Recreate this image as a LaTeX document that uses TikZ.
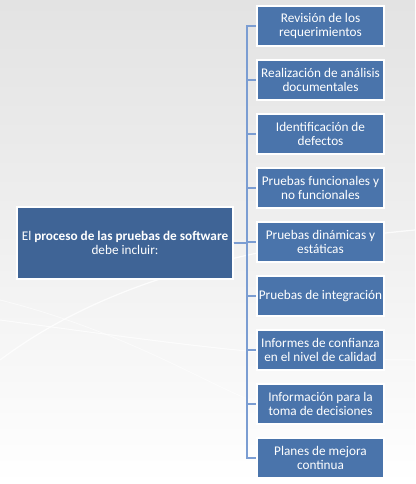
\documentclass[tikz,border=0pt]{standalone}
\usepackage{fontspec}
\setmainfont{Carlito}
\definecolor{boxblue}{HTML}{4A74AB}
\definecolor{rootblue}{HTML}{3F6496}
\definecolor{linkblue}{HTML}{7B9DD2}
\begin{document}
\begin{tikzpicture}[x=1bp,y=-1bp,
	item/.style={minimum width=127bp,minimum height=40bp,inner sep=1bp,fill=boxblue,draw=white,line width=1.5bp,text=white,align=center,font=\fontsize{13.3}{14.7}\selectfont},
	link/.style={draw=linkblue,line width=2bp}]
	
	% background
	\useasboundingbox (0,0) rectangle (415,484);
	\shade[top color=black!11,bottom color=white,middle color=black!6] (0,0) rectangle (415,484);
	\draw[white,line width=1.2bp,opacity=0.8] (0,360) .. controls (80,300) and (200,250) .. (415,230);
	\draw[white,line width=1bp,opacity=0.7] (0,320) .. controls (150,340) and (280,360) .. (415,360);
	\draw[white,line width=0.8bp,opacity=0.6] (0,300) .. controls (120,330) and (200,380) .. (250,400);
	
	\node (root) at (125,243) [minimum width=216bp,minimum height=72bp,fill=rootblue,draw=white,line width=1.5bp,text=white,align=center,font=\fontsize{13.3}{14}\selectfont] {El \textbf{proceso de las pruebas de software}\\debe incluir:};
	
	\foreach \txt [count=\x] in {Revisión de los\\requerimientos, Realización de análisis\\documentales, Identificación de\\defectos, Pruebas funcionales y\\no funcionales, Pruebas dinámicas y\\estáticas, Pruebas de integración, Informes de confianza\\en el nivel de calidad, Información para la\\toma de decisiones, Planes de mejora\\continua} {
		\node (r\x) at (320.5,{26+54*(\x-1)}) [item] {\txt};
		\draw[link] (root.east) -- ++(13,0) |- (r\x.west);
	}
	
\end{tikzpicture}
\end{document}
